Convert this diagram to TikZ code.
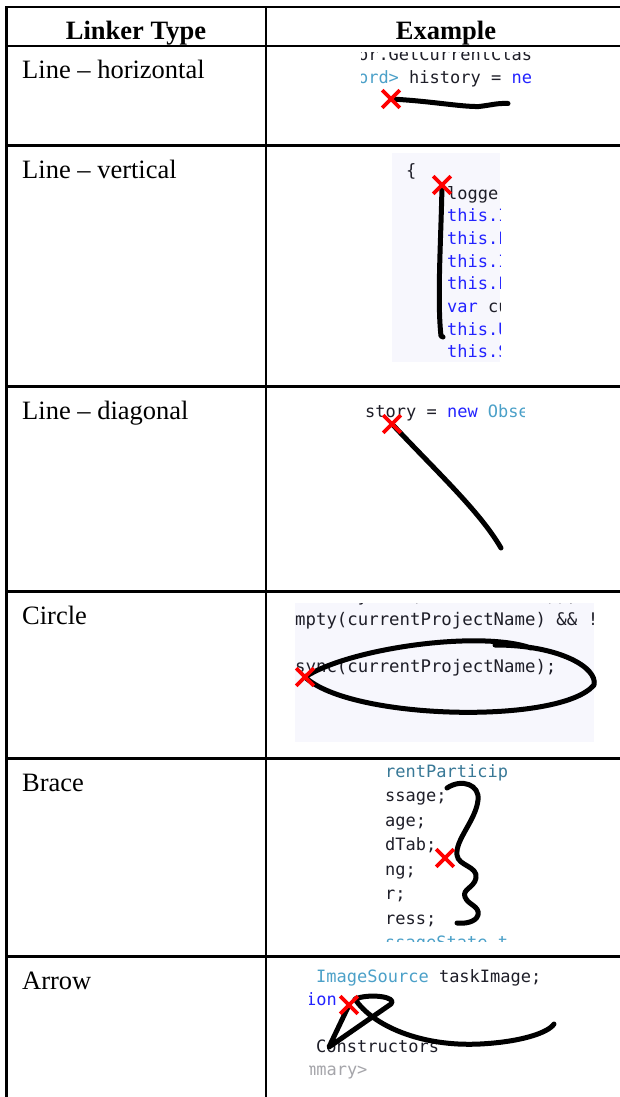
\documentclass[tikz,border=0pt]{standalone}
\usepackage{fontspec}
\setmainfont{Liberation Serif}
\newfontfamily\codefont{DejaVu Sans Mono}
\usetikzlibrary{shapes.misc}
\definecolor{kwblue}{RGB}{35,35,255}
\definecolor{typeteal}{RGB}{75,160,200}
\definecolor{codeink}{RGB}{30,30,40}
\definecolor{cmtgray}{RGB}{165,165,170}
\definecolor{shotbg}{RGB}{247,247,253}
\def\kwd#1{{\color{kwblue}#1}}
\def\tname#1{{\color{typeteal}#1}}

\begin{document}
\begin{tikzpicture}[rule/.style={line width=2.6pt},
  head/.style={anchor=base, inner sep=0pt, font=\fontsize{26.5}{30}\selectfont\bfseries},
  cell/.style={anchor=base west, inner sep=0pt, font=\fontsize{26.5}{30}\selectfont},
  code/.style={anchor=base west, inner sep=0pt, text=codeink, font=\codefont\fontsize{17}{20}\selectfont},
  codewide/.style={code, font=\codefont\fontsize{17.36}{20}\selectfont},
  ink/.style={line width=5pt, line cap=round, line join=round},
  startx/.style={cross out, draw=red, line width=3.6pt, minimum size=14pt, inner sep=0pt}]
\useasboundingbox (0pt, 0pt) rectangle (619pt, -1097pt);

% table rules, open at the right and at the bottom
\draw[rule] (6.7pt, -7pt) -- (6.7pt, -1100pt);
\draw[rule] (266pt, -7pt) -- (266pt, -1100pt);
\foreach \y in {7, 46.2, 145.7, 386.6, 591.5, 758.5, 956.3}
  \draw[rule] (5.4pt, -\y*1pt) -- (625pt, -\y*1pt);

\draw (136pt, -39.5pt)node[head](hdtype){Linker Type};
\draw (446pt, -39.5pt)node[head](hdex){Example};

\draw (22pt, -79pt)node[cell](lbhoriz){Line – horizontal};
\draw (22pt, -178.7pt)node[cell](lbvert){Line – vertical};
\draw (22pt, -419.6pt)node[cell](lbdiag){Line – diagonal};
\draw (22pt, -624.5pt)node[cell](lbcircle){Circle};
\draw (22pt, -791.5pt)node[cell](lbbrace){Brace};
\draw (22pt, -989.3pt)node[cell](lbarrow){Arrow};

% horizontal line
\begin{scope}
\clip (361.5pt, -53pt) rectangle (531.5pt, -95pt);
\draw (347.6pt, -60.5pt)node[code](ln1a){tor.GetCurrentClass};
\draw (347.6pt, -84pt)node[code](ln1b){\tname{cord>} history = \kwd{new}};
\end{scope}
\coordinate (s1) at (391pt, -99pt);
\draw[ink] (s1) .. controls (430pt, -101pt) and (462pt, -107pt) .. (479pt, -106.5pt)
  .. controls (492pt, -105pt) and (497pt, -103pt) .. (508pt, -103.5pt);
\node[startx] (x1) at (s1) {};

% vertical line
\fill[shotbg] (392pt, -153pt) rectangle (500pt, -362pt);
\begin{scope}
\clip (392pt, -153pt) rectangle (500pt, -362pt);
\draw (406pt, -176pt)node[code](ln2a){\{};
\draw (447pt, -199pt)node[code](ln2b){logger};
\draw (447pt, -221.7pt)node[code](ln2c){\kwd{this.IsBusy}};
\draw (447pt, -244.4pt)node[code](ln2d){\kwd{this.LoadTasks}};
\draw (447pt, -267.1pt)node[code](ln2e){\kwd{this.Items}};
\draw (447pt, -289.8pt)node[code](ln2f){\kwd{this.Logs}};
\draw (447pt, -312.5pt)node[code](ln2g){\kwd{var} current};
\draw (447pt, -335.2pt)node[code](ln2h){\kwd{this.Update}};
\draw (447pt, -357.9pt)node[code](ln2i){\kwd{this.State}};
\end{scope}
\coordinate (s2) at (442pt, -185pt);
\draw[ink] (s2) .. controls (441pt, -240pt) and (437pt, -300pt) .. (441pt, -336pt) -- (443pt, -337pt);
\node[startx] (x2) at (s2) {};

% diagonal line
\begin{scope}
\clip (366pt, -395pt) rectangle (524pt, -430pt);
\draw (344.5pt, -417pt)node[code](ln3a){history = \kwd{new} \tname{ObservableCollection}};
\end{scope}
\coordinate (s3) at (392pt, -424pt);
\draw[ink] (s3) .. controls (440pt, -475pt) and (480pt, -512pt) .. (501pt, -548pt);
\node[startx] (x3) at (s3) {};

% circle
\fill[shotbg] (295pt, -603pt) rectangle (594pt, -742pt);
\begin{scope}
\clip (295pt, -603pt) rectangle (594pt, -742pt);
\draw (295pt, -601.5pt)node[codewide](ln4a){History.Add(currentNames)),};
\draw (284.5pt, -625pt)node[codewide](ln4b){Empty(currentProjectName) \&\& !string};
\draw (284.5pt, -672pt)node[codewide](ln4c){Async(currentProjectName);};
\end{scope}
\coordinate (s4) at (305pt, -677pt);
\draw[ink] (s4) .. controls (350pt, -648pt) and (480pt, -630pt) .. (531pt, -648pt)
  (s4) .. controls (350pt, -720pt) and (560pt, -725pt) .. (594pt, -685pt)
  .. controls (598pt, -668pt) and (560pt, -645pt) .. (495pt, -645pt);
\node[startx] (x4) at (s4) {};

% brace
\begin{scope}
\clip (385pt, -762pt) rectangle (507pt, -941pt);
\draw (385pt, -777pt)node[code, text=typeteal!75!black](ln5a){rentParticipant};
\draw (385pt, -801.5pt)node[code](ln5b){ssage;};
\draw (385pt, -826pt)node[code](ln5c){age;};
\draw (385pt, -850.5pt)node[code](ln5d){dTab;};
\draw (385pt, -875pt)node[code](ln5e){ng;};
\draw (385pt, -899.5pt)node[code](ln5f){r;};
\draw (385pt, -924pt)node[code](ln5g){ress;};
\draw (385pt, -948.5pt)node[code, text=typeteal](ln5h){ssageState ty};
\end{scope}
\coordinate (s5) at (445pt, -858pt);
\draw[ink] (447pt, -788pt) .. controls (462pt, -778pt) and (480pt, -785pt) .. (478pt, -800pt)
  .. controls (476pt, -820pt) and (455pt, -840pt) .. (457pt, -855pt)
  .. controls (458pt, -866pt) and (478pt, -866pt) .. (476pt, -878pt)
  .. controls (474pt, -888pt) and (462pt, -889pt) .. (465pt, -897pt)
  .. controls (468pt, -905pt) and (480pt, -906pt) .. (478pt, -915pt)
  .. controls (476pt, -922pt) and (465pt, -924pt) .. (457pt, -923pt);
\node[startx] (x5) at (s5) {};

% arrow
\begin{scope}
\clip (309pt, -960pt) rectangle (560pt, -1097pt);
\draw (316pt, -982pt)node[code](ln6a){\tname{ImageSource} taskImage;};
\draw (295.6pt, -1005.3pt)node[code, text=kwblue](ln6b){gion};
\draw (316pt, -1052pt)node[code](ln6c){Constructors};
\draw (285.4pt, -1075.2pt)node[code, text=cmtgray](ln6d){summary>};
\end{scope}
\coordinate (s6) at (349pt, -1005pt);
\draw[ink] (s6) -- (329pt, -1047pt) -- (391pt, -1004pt)
  .. controls (398pt, -997pt) and (370pt, -993pt) .. (355pt, -999pt)
  .. controls (372pt, -1025pt) and (420pt, -1047pt) .. (480pt, -1044pt)
  .. controls (520pt, -1042pt) and (548pt, -1033pt) .. (554pt, -1024pt);
\node[startx] (x6) at (s6) {};
\end{tikzpicture}
\end{document}
